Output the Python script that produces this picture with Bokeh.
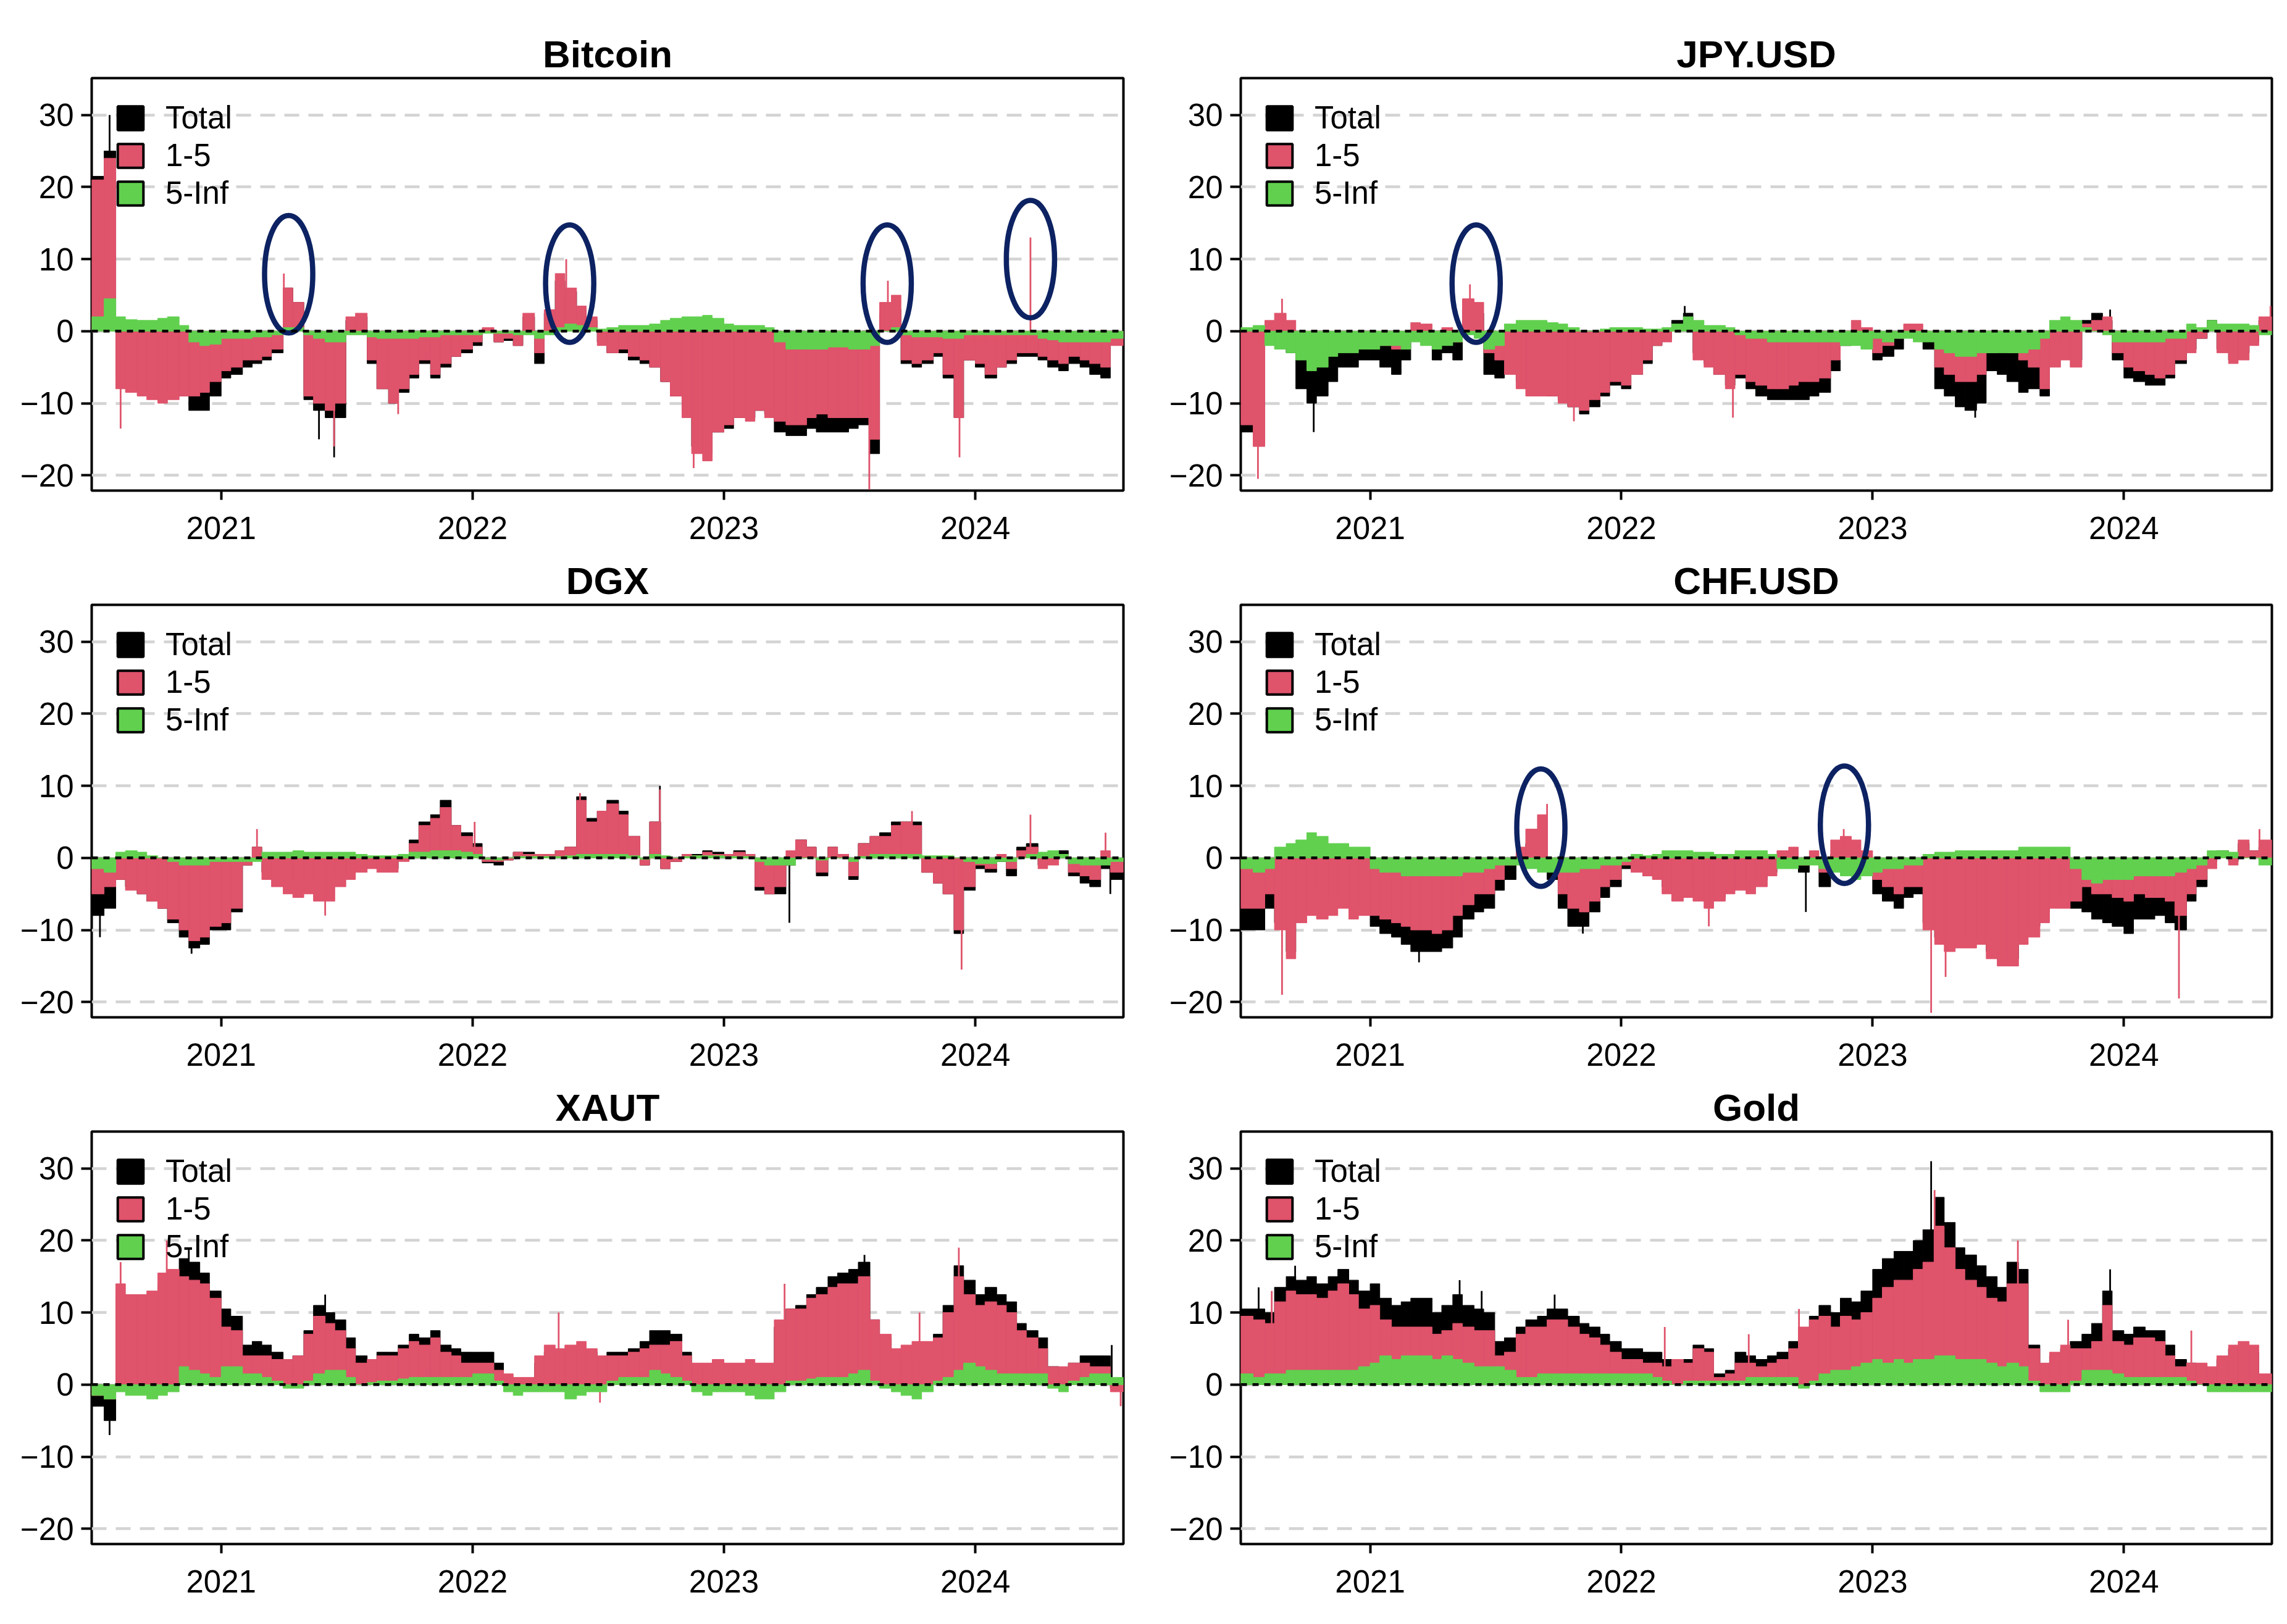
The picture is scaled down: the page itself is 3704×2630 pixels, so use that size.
import pandas as pd
from bokeh.plotting import figure
from bokeh.layouts import gridplot
from bokeh.models import (Range1d, FixedTicker, DatetimeTickFormatter, Span, Legend,
                          LegendItem, ColumnDataSource)
from bokeh.embed import file_html
from bokeh.resources import INLINE

# ---------------- data (semi-monthly readings from the chart) ----------------
period_starts = pd.date_range("2020-07-01", "2024-07-15", freq="SMS")
x_start, x_end = "2020-06-27", "2024-08-03"
year_ticks = ["2021-01-01", "2022-01-01", "2023-01-01", "2024-01-01"]
y_ticks = [-20, -10, 0, 10, 20, 30]
legend_labels = ["Total", "1-5", "5-Inf"]
titles = ["Bitcoin", "JPY.USD", "DGX", "CHF.USD", "XAUT", "Gold"]

btc_total = [21.5, 25, -6.5, -7.5, -8, -8.5, -8.5, -8, -9, -11, -11, -9, -6.5, -6,
             -5, -4.5, -4, -3, 6, 4, -9.5, -11, -12, -12, 1.5, 2, -4.5, -8,
             -10, -8.5, -6.5, -4.5, -6.5, -5, -3.5, -3, -2, 0.3, -1.5, -1.3, -2, 2,
             -4.5, 2.5, 7, 5.5, 3, 1.5, -1.5, -3, -3, -4, -4.5, -5, -7, -9,
             -11, -16, -17, -14, -13.5, -12, -12, -11, -11.5, -14, -14.5, -14.5, -13.5, -14,
             -14, -14, -13.5, -13, -17, 2.5, 3, -4.5, -5, -4.5, -3.5, -6.5, -12, -4,
             -5, -6.5, -5, -4.5, -3.5, -3.5, -4, -5, -5.5, -4.5, -5, -6, -6.5, -1.5]
btc_s15 = [21, 24, -8, -8.5, -9, -9.5, -10, -9.5, -9, -9, -8.5, -7, -5.5, -5,
           -4, -4, -3.5, -2.5, 6, 4, -9, -10, -11, -10, 2, 2.5, -4, -8,
           -10, -8, -6, -4, -6, -4.5, -3.5, -2.5, -1.5, 0.5, -1.5, -1, -2, 2.5,
           -3, 3, 8, 6, 3.5, 2, -2, -3, -2.5, -3.5, -4, -5, -7, -9,
           -12, -17, -18, -14, -13, -12, -12.5, -11, -12, -12.5, -13, -13, -12, -11.5,
           -12, -12, -12, -12, -15, 4, 5, -4, -4.5, -4, -3, -6, -12, -4,
           -4.5, -6, -5, -4, -3, -3, -3.5, -4, -4.5, -3.5, -4, -4.5, -5, -2]
btc_s5inf = [2, 4.5, 2, 1.6, 1.5, 1.5, 1.8, 2, 0.8, -1.5, -2, -1.8, -1, -1,
             -1, -0.8, -0.8, -0.5, 0.5, 0.5, -0.5, -1, -1.5, -1.5, -0.5, -0.5, -0.8, -1,
             -1, -1, -1, -0.8, -0.8, -0.5, -0.5, -0.5, -0.5, -0.3, -0.3, -0.3, -0.5, -0.5,
             -1, -0.5, 0.5, 1, 0.8, 0.5, 0.3, 0.5, 0.8, 0.8, 0.8, 1, 1.5, 1.8,
             2, 2, 2.2, 1.8, 1, 0.8, 0.8, 0.8, 0.5, -1.5, -2.5, -2.5, -2.5, -2.5,
             -2.2, -2.2, -2.5, -2.5, -2, 0, 0.5, -0.5, -0.8, -0.8, -0.8, -1, -1, -0.5,
             -0.5, -0.5, -0.5, -0.5, -0.5, -0.5, -1, -1.2, -1.5, -1.5, -1.5, -1.5, -1.5, -1]

jpy_total = [-14, -15, -1.5, -2, -3, -8, -10, -9, -7, -5, -5, -4, -4, -5,
             -6, -4, -0.5, -1, -4, -3, -4, 3, 2.5, -6, -6.5, -5.5, -7, -8,
             -8.5, -9, -9.5, -10.5, -11.5, -10.5, -9, -7.5, -8, -6, -4.5, -2, -1, 1.5,
             2.5, -3, -4.5, -6, -7.5, -6.5, -8, -9, -9.5, -9.5, -9.5, -9.5, -9, -8.5,
             -5.5, -2, -0.5, -2, -4, -3.5, -2.5, 0, -0.5, -2.5, -8, -9, -10.5, -11,
             -10, -5.5, -6, -7, -8.5, -8, -9, -4, -2, -4, 1.5, 2.5, 1.5, -4,
             -6.5, -7, -7.5, -7.5, -6.5, -4.5, -2.5, -1, 1.5, -2.5, -4, -3, -1.5, 1.5]
jpy_s15 = [-13, -16, 1.5, 2.5, 1.5, -3, -4, -3, -3, -2, -1.5, -1, -1.5, -2,
           -2.5, -1.5, 1.2, 1, -1, 0.5, -1.5, 4.5, 4, -3, -4, -6, -8, -9,
           -9, -9, -10, -10.5, -11, -9.5, -8.5, -7, -7.5, -6, -4, -2, -1.5, 0.5,
           0.5, -4, -5, -6, -8, -6, -7, -7.5, -8, -8, -7.5, -7, -7, -6.5,
           -4, -0.5, 1.5, 0.5, -3, -2, -1, 1, 1, -1, -5, -6, -7, -7,
           -6, -3, -2.5, -3, -4, -5, -8, -5, -4, -5, 1, 1.5, 2, -3,
           -5, -5.5, -6, -6.5, -6, -4, -3, -1, 0.5, -3, -4.5, -4, -2, 2]
jpy_s5inf = [0.5, 0.8, -2, -2.5, -3, -4, -5.5, -5, -3.5, -3, -3, -2.5, -2.5, -2,
             -2, -2.5, -1.5, -2, -2.5, -2, -1.5, -0.5, -1, -2.5, -2, 1, 1.5, 1.5,
             1.5, 1.2, 1, 0.5, 0, 0, 0.3, 0.5, 0.5, 0.5, 0.3, 0.3, 0.5, 1,
             2, 1.5, 0.8, 0.8, 0.5, -0.5, -1, -1, -1.5, -1.5, -1.5, -1.5, -1.5, -1.5,
             -1.5, -2, -2, -2.5, -1, -1.5, -1, -1, -1.5, -1.5, -2.5, -3, -3.5, -3.5,
             -3, -3, -3, -3, -3, -2.5, -1, 1.5, 2, 1.5, 0.5, 0, -0.5, -1.5,
             -1.5, -1.5, -1.5, -1.5, -1, -1, 1, 0.5, 1.5, 1, 1, 1, 0.8, -0.5]

dgx_total = [-8, -7, -3, -4, -5, -6, -7, -9, -11, -12.5, -12, -10, -10, -7.5,
             -1, 1.5, -2, -2.5, -3, -3.5, -3.5, -3.5, -3, -2.5, -2, -1.5, -1, -1.5,
             -1.5, 0, 2.5, 5, 6, 8, 4.5, 3.5, 2, -0.7, -1, -0.3, 0.8, 0.8,
             0.5, 0.5, 1, 1.5, 8.5, 5.5, 6.5, 8, 6.5, 3, -1, 5, -1.5, -0.5,
             0.5, 0.5, 1, 0.8, 0.5, 1, 0.5, -4.5, -5, -5, -1, 2.5, 1.5, -2.5,
             1.5, 0.5, -3, 2, 3, 3.5, 5, 5, 5, -2, -3.5, -5, -10.5, -4.5,
             -1.5, -2, -0.5, -2.5, 1.5, 2, -1, 0.5, 1, -2.5, -3.5, -4, -1.5, -3]
dgx_s15 = [-5, -4, -3, -4.5, -5, -6, -7, -8.5, -10, -11.5, -11, -9.5, -9, -7,
           -1, 1.5, -3, -4, -5, -5.5, -5, -6, -6, -4, -3, -2, -1.5, -2,
           -2, -0.5, 2, 4.5, 5.5, 7, 4.5, 3, 1.5, -0.5, -0.5, -0.3, 0.8, 0.5,
           0.5, 0.5, 1, 1.5, 8, 5, 6.5, 7.5, 6, 3, -1, 5, -1.5, -0.5,
           0.5, 0.3, 0.8, 0.5, 0.5, 0.8, 0.5, -4, -5, -4, 1, 2.5, 1.5, -2,
           1.5, 0.5, -2.5, 2, 3, 3, 4.5, 5, 4.5, -2, -3.5, -5, -10, -4,
           -1, -1.5, 0.5, -1.5, 1, 1.5, -1.5, -1, 0.5, -2, -2.5, -3, 1, -2]
dgx_s5inf = [-1.5, -2, 0.8, 1, 0.8, 0.3, 0, -0.5, -1, -1, -1, -0.5, -0.5, -0.5,
             -0.5, -0.5, 0.8, 0.8, 0.8, 1, 0.8, 0.8, 0.8, 0.8, 0.8, 0.5, 0.3, 0.3,
             0.3, 0.5, 0.8, 0.8, 1, 1, 1, 0.8, 0.5, -0.2, -0.3, 0, 0.2, 0.2,
             0.2, 0.2, 0.2, 0.3, 0.5, 0.5, 0.5, 0.5, 0.5, 0.3, -0.2, 0.5, 0.3, 0,
             0.2, 0.3, 0.3, 0.3, 0.2, 0.2, 0.2, -0.5, -1, -1, -1, 0, 0, -0.3,
             0, 0, -0.5, 0.2, 0.5, 0.5, 0.5, 0.5, 0.5, 0.3, 0.3, 0.3, 0, -0.5,
             -0.8, -0.8, -0.5, -0.5, 0, 0.5, 0.8, 1, 0.5, -0.8, -1, -1, -1, -0.5]

chf_total = [-10, -10, -7, -9, -13, -7, -5, -5, -6, -6, -7, -7, -9.5, -10.5,
             -11, -12, -13, -13, -13, -12.5, -11, -8.5, -7.5, -7, -4.5, -3, 0.5, 2,
             3.5, -3, -7, -9.5, -9.5, -7.5, -5.5, -4, -1.5, -1.5, -2.5, -2.5, -4, -5,
             -4.5, -5, -6, -5.5, -4.5, -3.5, -4, -3, -2, -0.5, 0, -2, 0, -4,
             0.5, 0.5, -0.5, -1.5, -5, -6, -7, -5.5, -5, -9, -11, -12, -11.5, -11.5,
             -11, -13, -14, -14, -10.5, -9.5, -7.5, -5.5, -6, -7, -7.5, -8.5, -9, -9.5,
             -10.5, -8.5, -8.5, -8, -9, -10, -6, -4, -0.5, 1, -0.5, 2, 1, 1.5]
chf_s15 = [-7, -7, -5, -10, -14, -9, -8, -8.5, -8, -7, -8.5, -8, -8, -8.5,
           -9, -9.5, -10, -10, -10.5, -10, -8, -6.5, -5, -5, -3, -1, 1.5, 4,
           6, -1, -5, -7, -7.5, -6, -4, -3, -1, -2, -2.5, -3, -5, -6,
           -5.5, -6, -7, -6, -5, -4.5, -5, -4, -2.5, 1, 1.5, -1, 1, -2,
           2.5, 3, 2.5, 1, -3, -4, -5, -4, -4, -10, -12, -13, -12.5, -12.5,
           -12, -14, -15, -15, -12, -11, -9, -7, -7, -6, -4, -5, -5, -5.5,
           -6, -5, -5.5, -5.5, -6, -8, -5, -3, -1.5, 0.5, -1, 2.5, 1, 2.5]
chf_s5inf = [-1.5, -2, -1.5, 1.5, 2, 2.5, 3.5, 3, 2, 2, 1.5, 1.5, -1.5, -2,
             -2, -2.5, -2.5, -2.5, -2.5, -2.5, -2.5, -2, -2, -1.5, -1, -1, -1, -1.5,
             -2, -2, -2, -2, -1.5, -1.5, -1, -1, -0.5, 0.5, 0.3, 0.5, 1, 1,
             1, 0.8, 0.8, 0.5, 0.5, 1, 1, 1, 0.5, -1.5, -1.5, -1, -1, -1.5,
             -2, -2.5, -3, -2.5, -2, -1.5, -1.5, -1, -1, 0.5, 0.8, 0.8, 1, 1,
             1, 1, 1, 1, 1.5, 1.5, 1.5, 1.5, 1.5, -1.5, -3, -3.5, -3, -3,
             -3, -2.5, -2.5, -2.5, -2.5, -2, -1.5, -1, 1, 1, 0.8, 0, 0, -1]

xaut_total = [-3, -5, 12.5, 11.5, 12, 11.5, 14, 15.5, 17.5, 17, 15.5, 13, 10.5, 9.5,
              5.5, 6, 5.5, 4.5, 3.5, 4, 7.5, 11, 10, 9, 6.5, 4, 3.5, 4.5,
              4.5, 5.5, 7, 6.5, 7.5, 5.5, 5, 4.5, 4.5, 4.5, 3, 1, -0.5, 0.5,
              3, 4.5, 4.5, 4.5, 5, 4.5, 3.5, 4.5, 4.5, 5, 6, 7.5, 7.5, 7,
              4.5, 2, 1.5, 2.5, 2, 2, 2, 0.5, 1.5, 8, 10.5, 11, 12.5, 13.5,
              15, 15.5, 16, 17, 9, 6.5, 4, 4, 3.5, 5, 7, 11, 16.5, 14.5,
              12.5, 13.5, 12.5, 11.5, 8.5, 7.5, 6.5, 2.5, 1.5, 3, 4, 4, 4, -0.5]
xaut_s15 = [-1.5, -2, 14, 12.5, 12.5, 13, 15.5, 16, 15, 14.5, 14, 12, 8, 7.5,
            4, 4, 4, 3.5, 3.5, 4, 7, 9.5, 8.5, 7.5, 5, 3, 3.5, 4,
            4, 5, 6, 5.5, 6.5, 4.5, 4, 3, 3, 3, 2, 1.5, 1, 1,
            4, 5.5, 5, 5.5, 6, 5, 4, 4, 4, 4.5, 5, 5.5, 5.5, 6,
            4, 3, 3, 3.5, 3, 3, 3.5, 3, 3, 9, 10.5, 10.5, 12, 12.5,
            13.5, 14, 14, 15, 9, 7, 5, 5.5, 6, 6, 6.5, 10, 15, 12.5,
            11, 11.5, 11, 10, 7.5, 6.5, 5, 2.5, 2.5, 3, 3, 2.5, 2.5, -1]
xaut_s5inf = [-1.5, -2, -1, -1.5, -1.5, -2, -1.5, -1, 2.5, 2, 1.5, 1, 2.5, 2.5,
              1.5, 1.5, 1, 0.5, -0.5, -0.5, 0.5, 1.5, 2, 2, 1, 0, 0.3, 0.5,
              0.5, 0.8, 1, 1, 1, 1, 1, 1, 1.5, 1.5, 0.5, -1, -1.5, -1,
              -1, -1, -1, -2, -1.5, -1, -1, 0.5, 1, 1, 1, 2, 1.5, 1,
              0.5, -1, -1.5, -1, -1, -1, -1.5, -2, -2, -1, 0.5, 0.5, 0.8, 1,
              1, 1, 1.5, 2, 0.5, -0.5, -1, -1.5, -2, -1, 0.5, 1, 2, 3,
              2.5, 2, 1.5, 1.5, 1.5, 1.5, 1.5, -0.5, -1, 0.5, 1, 1.5, 1.5, 1]

gold_total = [10.5, 10.5, 10, 13.5, 15, 14.5, 15, 14, 15, 16, 14.5, 13, 14, 12,
              11, 11.5, 12, 12, 10, 11, 12.5, 11, 10.5, 10, 6, 6.5, 8, 9,
              9.5, 10.5, 10.5, 9.5, 8.5, 8, 7, 6, 5, 5, 4.5, 4.5, 3.5, 3,
              3.5, 5.5, 5, 1.5, 2, 4.5, 4, 3.5, 4, 4.5, 6, 7.5, 9.5, 11,
              10, 12, 11.5, 13, 16, 17.5, 18.5, 18.5, 20, 21.5, 26, 22.5, 19, 18,
              16.5, 15, 13.5, 17, 16, 5.5, 2.5, 4, 5, 6, 7, 8.5, 13, 7.5,
              7, 8, 7.5, 7.5, 5.5, 3.5, 3, 2.5, 1.5, 3.5, 5, 5, 4.5, 0.5]
gold_s15 = [9.5, 9, 8.5, 11.5, 13, 12.5, 12.5, 12, 13, 14, 12.5, 10.5, 11, 9,
            8, 8, 8, 8, 7, 7.5, 8.5, 8, 7.5, 7.5, 4, 4.5, 7, 8,
            8, 9, 9, 8, 7, 6.5, 5.5, 4.5, 3.5, 3.5, 3, 3, 2.5, 3.5,
            3, 5, 4.5, 1, 1.5, 3, 3, 2.5, 3, 3.5, 5, 8, 9, 9.5,
            8, 9.5, 9, 10, 12, 13.5, 14.5, 14.5, 16, 17, 22, 19, 16, 14.5,
            13.5, 12, 11.5, 14, 14, 5, 3, 4.5, 5.5, 5, 5, 6, 11, 6,
            5.5, 6.5, 6.5, 6, 4, 2.5, 3, 3, 2.5, 4, 5.5, 6, 5.5, 1.5]
gold_s5inf = [1.5, 1, 1.5, 1.5, 2, 2, 2, 2, 2, 2, 2, 2.5, 3, 4,
              3.5, 4, 4, 4, 3.5, 4, 3.5, 3, 2.5, 2.5, 2.5, 2, 1, 1,
              1.5, 1.5, 1.5, 1.5, 1.5, 1.5, 1.5, 1.5, 1.5, 1.5, 1.5, 1, 0.5, 0,
              0.5, 0.5, 0.5, 0.5, 0.5, 0.5, 1, 1, 1, 1, 1, -0.5, 0.5, 1.5,
              2, 2, 2.5, 3, 3.5, 3, 3.5, 3, 3.5, 3.5, 4, 4, 3.5, 3.5,
              3.5, 3, 2.5, 3, 2.5, 0.5, -1, -1, -1, 0.5, 2, 2, 2, 1.5,
              1, 1, 1, 1, 1, 1, 0.5, 0, -1, -1, -1, -1, -1, -1]

# single-day spikes: date, series, value
btc_spk_dates = ["2020-07-23", "2020-08-08", "2021-04-02", "2021-05-23", "2021-06-14", "2021-06-14",
                 "2021-09-15", "2022-05-17", "2022-11-18", "2023-07-31", "2023-08-27", "2023-12-09",
                 "2024-03-21"]
btc_spk_series = ["total", "s15", "s15", "total", "total", "s15",
                  "s15", "s15", "s15", "s15", "s15", "s15", "s15"]
btc_spk_vals = [30, -13.5, 8, -15, -17.5, -16, -11.5, 10, -19, -22, 7, -17.5, 13]

jpy_spk_dates = ["2020-07-22", "2020-08-26", "2020-10-11", "2021-05-26", "2021-10-24",
                 "2022-04-03", "2022-06-12", "2023-05-30", "2023-12-12", "2024-08-01"]
jpy_spk_series = ["s15", "s15", "total", "s15", "s15", "total", "s15", "total", "total", "s15"]
jpy_spk_vals = [-20.5, 4.5, -14, 6.5, -12.5, 3.5, -12, -12, 3, 3.5]

dgx_spk_dates = ["2020-07-09", "2020-11-19", "2021-02-22", "2021-06-01", "2022-01-04", "2022-06-06",
                 "2022-09-30", "2022-09-30", "2023-04-06", "2023-10-01", "2023-12-12", "2024-03-21",
                 "2024-07-08", "2024-07-15"]
dgx_spk_series = ["total", "total", "s15", "s15", "s15", "s15", "total", "s15", "total", "s15",
                  "s15", "s15", "s15", "total"]
dgx_spk_vals = [-11, -13.3, 4, -8, 5, 9, 10, 9.5, -9, 6.5, -15.5, 6, 3.5, -5]

chf_spk_dates = ["2020-08-26", "2021-03-13", "2021-09-15", "2021-11-06", "2022-05-08", "2022-09-26",
                 "2022-11-20", "2023-03-27", "2023-04-17", "2024-03-21", "2024-07-16"]
chf_spk_series = ["s15", "total", "s15", "total", "s15", "total", "s15", "s15", "s15", "s15", "s15"]
chf_spk_vals = [-19, -14.5, 7.5, -10.5, -9.5, -7.5, 4, -21.5, -16.5, -19.5, 4]

xaut_spk_dates = ["2020-07-23", "2020-08-08", "2020-10-14", "2020-11-15", "2021-06-01", "2022-05-06",
                  "2022-07-05", "2023-03-30", "2023-07-24", "2023-10-12", "2023-12-08", "2024-07-17",
                  "2024-07-30"]
xaut_spk_series = ["total", "s15", "s15", "total", "total", "s15", "s15", "s15", "total", "s15",
                   "s15", "total", "s15"]
xaut_spk_vals = [-7, 17, 20, 19, 12.5, 10, -2.5, 14, 18, 10, 19, 5.5, -3]

gold_spk_dates = ["2020-07-23", "2020-08-11", "2020-09-14", "2021-05-11", "2021-06-12", "2021-09-26",
                  "2022-03-05", "2022-07-05", "2022-09-16", "2023-03-27", "2023-04-01", "2023-07-31",
                  "2023-10-12", "2023-12-12", "2024-04-08"]
gold_spk_series = ["total", "s15", "total", "total", "total", "total", "s15", "s15", "s15", "total",
                   "s15", "s15", "s15", "total", "s15"]
gold_spk_vals = [13.5, 13, 16.5, 14.5, 13, 12.5, 8, 7, 10.5, 31, 27, 20, 9, 16, 7.5]

# highlighted episodes (ellipses): centre date, centre value
btc_ell_dates = ["2021-04-09", "2022-05-22", "2023-08-26", "2024-03-21"]
btc_ell_vals = [7.9, 6.6, 6.6, 10.0]
jpy_ell_dates = ["2021-06-04"]
jpy_ell_vals = [6.6]
chf_ell_dates = ["2021-09-06", "2022-11-21"]
chf_ell_vals = [4.2, 4.6]
ell_width_days = 70
ell_height = 16.3

panels = [
    (btc_total, btc_s15, btc_s5inf, (btc_spk_dates, btc_spk_series, btc_spk_vals), btc_ell_dates, btc_ell_vals),
    (jpy_total, jpy_s15, jpy_s5inf, (jpy_spk_dates, jpy_spk_series, jpy_spk_vals), jpy_ell_dates, jpy_ell_vals),
    (dgx_total, dgx_s15, dgx_s5inf, (dgx_spk_dates, dgx_spk_series, dgx_spk_vals), [], []),
    (chf_total, chf_s15, chf_s5inf, (chf_spk_dates, chf_spk_series, chf_spk_vals), chf_ell_dates, chf_ell_vals),
    (xaut_total, xaut_s15, xaut_s5inf, (xaut_spk_dates, xaut_spk_series, xaut_spk_vals), [], []),
    (gold_total, gold_s15, gold_s5inf, (gold_spk_dates, gold_spk_series, gold_spk_vals), [], []),
]
for pnl in panels:
    for arr in pnl[:3]:
        assert len(arr) == len(period_starts), len(arr)
    assert len(pnl[3][0]) == len(pnl[3][1]) == len(pnl[3][2])

# ---------------- styling ----------------
RED = "#DF536B"
GREEN = "#61D04F"
NAVY = "#0C2262"
FONT = "Liberation Sans"
SPIKE_HALF = pd.Timedelta(hours=30)

starts = list(period_starts)
starts[0] = pd.Timestamp(x_start)
ends = starts[1:] + [pd.Timestamp(x_end)]
tick_ms = [pd.Timestamp(t).value / 1e6 for t in year_ticks]


def spike_source(spk, which):
    d, s, v = spk
    sel = [(pd.Timestamp(a), c) for a, b, c in zip(d, s, v) if b == which]
    return ColumnDataSource(dict(left=[a - SPIKE_HALF for a, _ in sel],
                                 right=[a + SPIKE_HALF for a, _ in sel],
                                 top=[c for _, c in sel]))


def make_panel(i, title, total, s15, s5inf, spk, edates, evals):
    col = i % 2
    row = i // 2
    p = figure(
        x_axis_type="datetime",
        x_range=Range1d(pd.Timestamp(x_start), pd.Timestamp(x_end)),
        y_range=Range1d(-22.12, 35.12),
        frame_width=1671 if col == 0 else 1670,
        frame_height=668,
        min_border_left=148 if col == 0 else 157,
        min_border_right=33 if col == 0 else 25,
        min_border_top=126 if row == 0 else 83,
        min_border_bottom=102,
        output_backend="svg",
        toolbar_location=None,
        background_fill_color="white",
        border_fill_color="white",
    )
    p.title.text = title
    p.title.align = "center"
    p.title.text_font = FONT
    p.title.text_font_style = "bold"
    p.title.text_font_size = "62px"
    p.title.text_color = "black"
    p.title.standoff = 9

    p.outline_line_color = "black"
    p.outline_line_width = 4

    src = ColumnDataSource(dict(left=starts, right=ends, total=total, s15=s15, s5inf=s5inf))
    p.quad(left="left", right="right", bottom=0, top="total", source=src,
           fill_color="black", line_color="black", line_width=1)
    p.quad(left="left", right="right", bottom=0, top="top", source=spike_source(spk, "total"),
           fill_color="black", line_color=None)
    p.quad(left="left", right="right", bottom=0, top="s15", source=src,
           fill_color=RED, line_color=RED, line_width=1)
    p.quad(left="left", right="right", bottom=0, top="top", source=spike_source(spk, "s15"),
           fill_color=RED, line_color=None)
    p.quad(left="left", right="right", bottom=0, top="s5inf", source=src,
           fill_color=GREEN, line_color=GREEN, line_width=1)

    p.add_layout(Span(location=0, dimension="width", line_color="black",
                      line_width=4.5, line_dash="10 9"))

    if edates:
        esrc = ColumnDataSource(dict(x=[pd.Timestamp(d) for d in edates], y=evals))
        p.ellipse(x="x", y="y", width=ell_width_days * 86400000.0, height=ell_height,
                  source=esrc, fill_color=None, line_color=NAVY, line_width=8.5)

    # axes
    p.xaxis.ticker = FixedTicker(ticks=tick_ms)
    p.xaxis.formatter = DatetimeTickFormatter(years="%Y", months="%Y", days="%Y",
                                              hours="%Y", hourmin="%Y")
    p.yaxis.ticker = FixedTicker(ticks=y_ticks)
    for ax in (p.xaxis[0], p.yaxis[0]):
        ax.axis_line_color = None
        ax.major_tick_line_color = "black"
        ax.major_tick_line_width = 4
        ax.major_tick_in = 0
        ax.minor_tick_line_color = None
        ax.major_label_text_font = FONT
        ax.major_label_text_font_size = "51px"
        ax.major_label_text_color = "black"
    p.xaxis.major_tick_out = 15
    p.xaxis.major_label_standoff = 27
    p.yaxis.major_tick_out = 17
    p.yaxis.major_label_standoff = 12

    p.xgrid.visible = False
    p.ygrid.ticker = FixedTicker(ticks=y_ticks)
    p.ygrid.grid_line_color = "#D3D3D3"
    p.ygrid.grid_line_width = 4.5
    p.ygrid.grid_line_dash = "24 15"

    # legend with bordered squares (keys are placed outside the visible y range)
    items = []
    for lab, c in zip(legend_labels, ["black", RED, GREEN]):
        r = p.quad(left=[pd.Timestamp(x_start)], right=[pd.Timestamp(x_start)],
                   top=[-100], bottom=[-100], fill_color=c,
                   line_color="black", line_width=4)
        items.append(LegendItem(label=lab, renderers=[r]))
    leg = Legend(items=items, location=(37, 452),
                 background_fill_alpha=0, border_line_alpha=0,
                 glyph_width=52, glyph_height=48, label_standoff=31,
                 label_text_font=FONT, label_text_font_size="51px",
                 label_text_color="black", spacing=2, padding=0, margin=0)
    p.add_layout(leg)
    return p


figs = []
for i, (title, pnl) in enumerate(zip(titles, panels)):
    figs.append(make_panel(i, title, *pnl))

grid = gridplot([[figs[0], figs[1]], [figs[2], figs[3]], [figs[4], figs[5]]],
                toolbar_location=None)

html = file_html(grid, INLINE, title="Connectedness")
with open("out.html", "w") as f:
    f.write(html)
